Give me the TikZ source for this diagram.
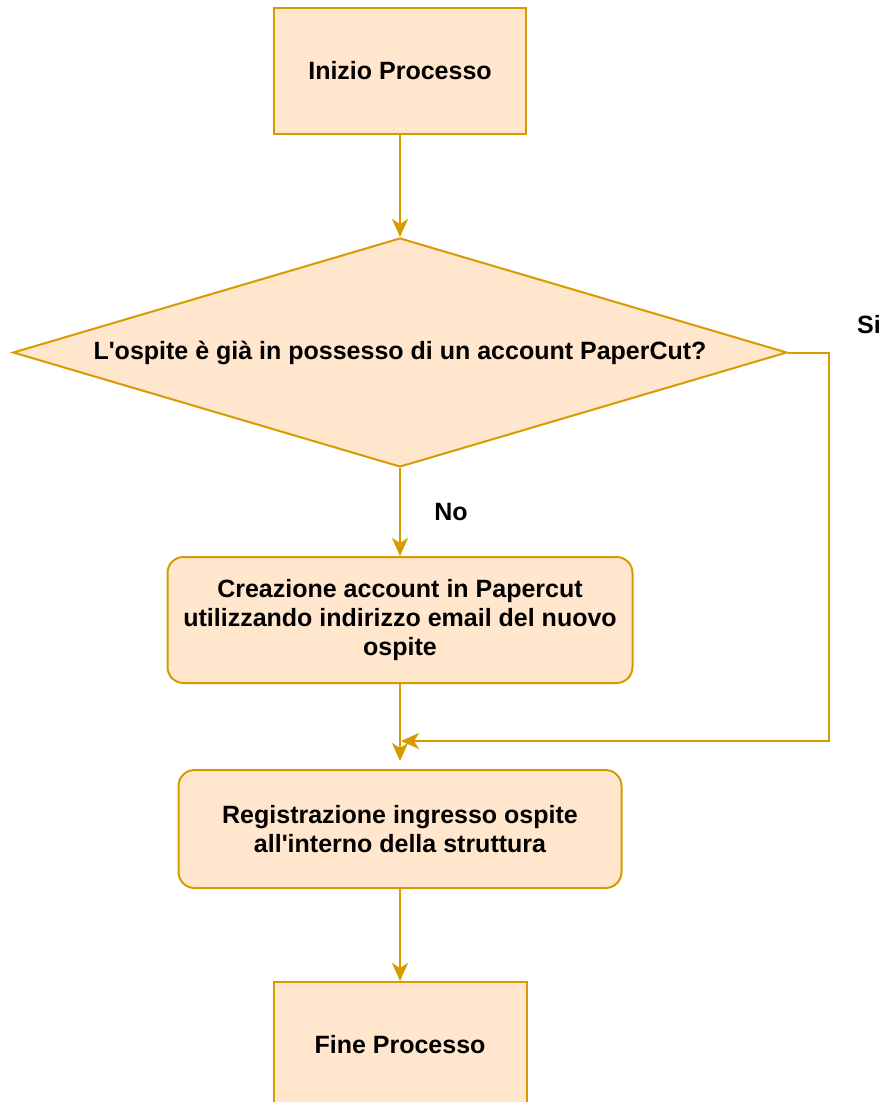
\documentclass[tikz,border=0pt]{standalone}
\usepackage{fontspec}
\setmainfont{Liberation Sans}
\usetikzlibrary{arrows.meta,shapes.geometric}
\definecolor{boxfill}{HTML}{FFE6CC}
\definecolor{boxline}{HTML}{D79B00}
\begin{document}
\begin{tikzpicture}[x=1pt,y=-1pt,
  font=\bfseries\fontsize{25}{29}\selectfont,
  procbox/.style={draw=boxline, fill=boxfill, line width=2pt, inner sep=0pt, align=center},
  roundbox/.style={procbox, rounded corners=16pt},
  decision/.style={procbox, diamond, aspect=3.38, minimum width=774pt, minimum height=229pt},
  arr/.style={draw=boxline, line width=2pt, -{Stealth[length=18pt,width=16pt,inset=5pt]}},
  lbl/.style={inner sep=0pt}]
\useasboundingbox (0,0) rectangle (885,1102);
\clip (0,0) rectangle (885,1102);
\node[procbox, minimum width=252pt, minimum height=126pt] (start) at (400,71) {Inizio Processo};
\node[decision] (dec) at (400,352.5) {L\textquotesingle ospite è già in possesso di un account PaperCut?};
\node[roundbox, minimum width=465pt, minimum height=126pt] (create) at (400,620) {Creazione account in Papercut\\utilizzando indirizzo email del nuovo\\ospite};
\node[roundbox, minimum width=443pt, minimum height=118pt] (reg) at (400,829) {Registrazione ingresso ospite\\all\textquotesingle interno della struttura};
\node[procbox, minimum width=253pt, minimum height=126pt] (end) at (400,1045) {Fine Processo};
\node[lbl] (no) at (451,512) {No};
\node[lbl] (si) at (869,325) {Si};
\coordinate (mergeA) at (400,761);
\coordinate (mergeB) at (401,741);
\coordinate (corner) at (829,741);
\draw[arr] (start.south) -- (start.south |- dec.north);
\draw[arr] (dec.south) -- (create.north);
\draw[arr] (create.south) -- (mergeA);
\draw[arr] (dec.east) -| (corner) -- (mergeB);
\draw[arr] (reg.south) -- (reg.south |- end.north);
\end{tikzpicture}
\end{document}
